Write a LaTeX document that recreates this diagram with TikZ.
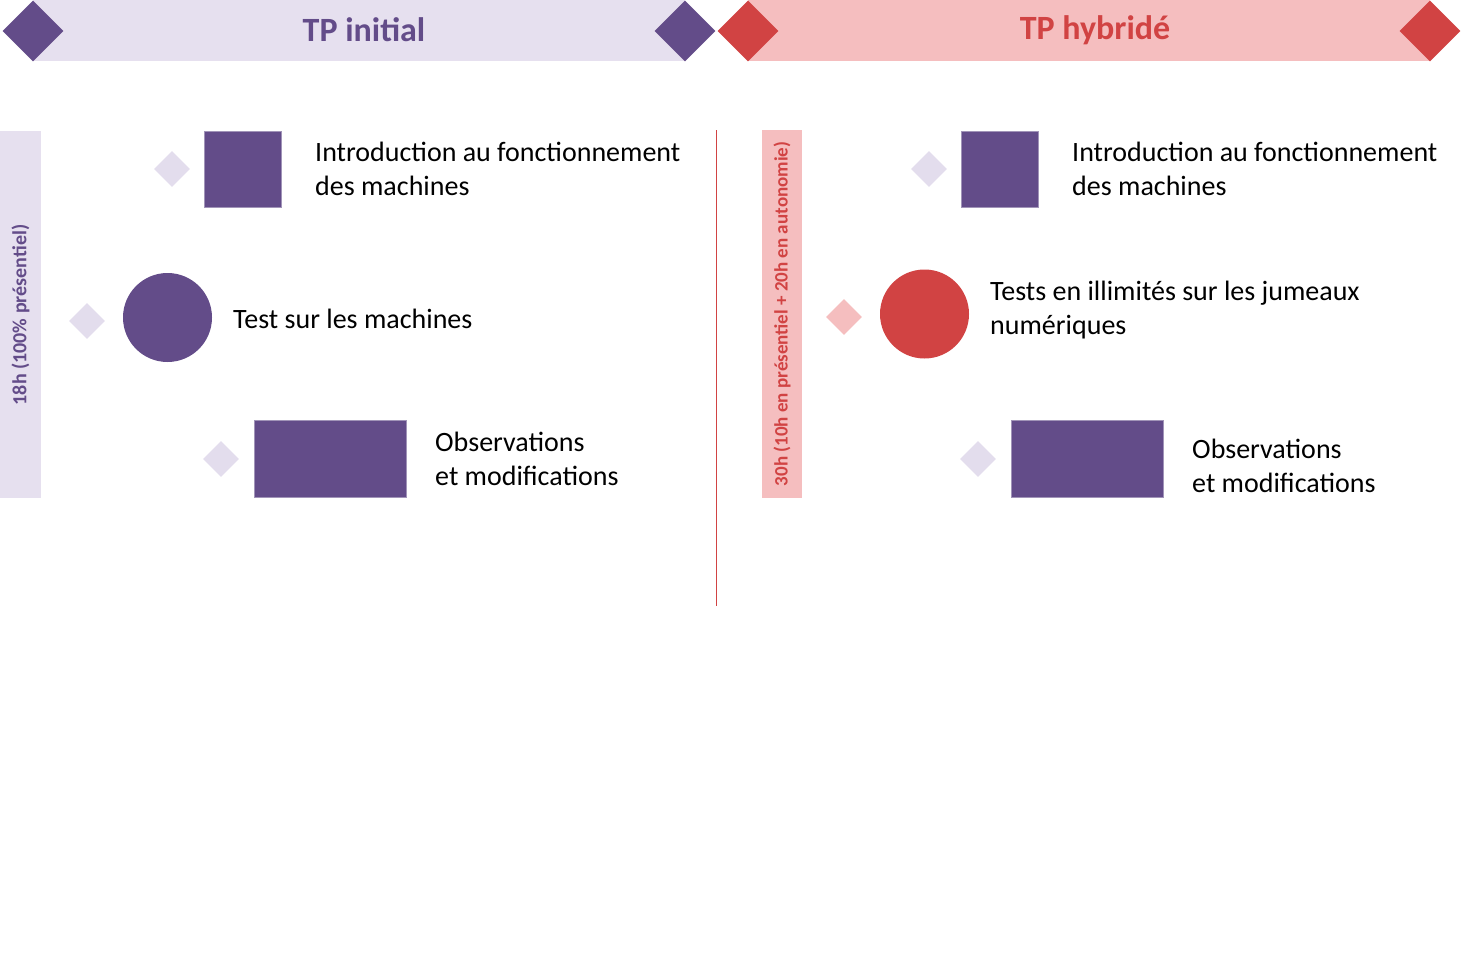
\documentclass[tikz,border=0pt]{standalone}
\usepackage{fontspec}
\setmainfont{Carlito}
\usetikzlibrary{shapes.geometric}
\definecolor{purp}{HTML}{634C89}
\definecolor{lpurp}{HTML}{E6E0EF}
\definecolor{dpurp}{HTML}{E3DDED}
\definecolor{rred}{HTML}{D14343}
\definecolor{pink}{HTML}{F5BEBF}
\tikzset{
  bigdia/.style={diamond, inner sep=0pt, minimum width=61pt, minimum height=61pt},
  smalldia/.style={diamond, inner sep=0pt, minimum width=36pt, minimum height=36pt, fill=dpurp},
  txt/.style={anchor=west, align=left, font=\fontsize{28}{34}\selectfont, inner sep=0pt},
  title/.style={font=\fontsize{34}{38}\selectfont\bfseries},
  vtxt/.style={rotate=90, font=\fontsize{19}{22}\selectfont\bfseries},
  blk/.style={fill=purp, draw=purp!60!white, line width=0.8pt}
}
\begin{document}
\begin{tikzpicture}[x=1pt,y=-1pt]
\useasboundingbox (0,0) rectangle (1461,974);
% headers
\fill[lpurp] (33,0) rectangle (685,61);
\fill[pink] (748,0) rectangle (1430,61);
\node[bigdia, fill=purp] (dl1) at (33,31) {};
\node[bigdia, fill=purp] (dl2) at (685,31) {};
\node[bigdia, fill=rred] (dr1) at (748,31) {};
\node[bigdia, fill=rred] (dr2) at (1430,31) {};
\node[title, text=purp] (tl) at (364,30) {TP initial};
\node[title, text=rred] (tr) at (1095,30) {TP hybridé};
% divider
\draw[rred, line width=0.9pt] (716,130) -- (716,606);
% vertical bars
\fill[lpurp] (0,131) rectangle (41,498);
\node[vtxt, text=purp, font=\fontsize{20}{22}\selectfont\bfseries] (vl) at (20.5,315) {18h (100\% présentiel)};
\fill[pink] (762,130) rectangle (802,498);
\node[vtxt, text=rred] (vr) at (782,314) {30h (10h en présentiel + 20h en autonomie)};
% left column
\node[smalldia] (ld1) at (172,169) {};
\node[blk, minimum width=77pt, minimum height=76pt, inner sep=0pt] (ls1) at (242.5,169) {};
\node[txt] (lt1) at (315,169) {Introduction au fonctionnement\\des machines};
\node[smalldia] (ld2) at (87,321) {};
\node[circle, fill=purp, minimum size=89pt, inner sep=0pt] (lc2) at (167.5,317.5) {};
\node[txt] (lt2) at (233,319) {Test sur les machines};
\node[smalldia] (ld3) at (221,459) {};
\node[blk, minimum width=152pt, minimum height=77pt, inner sep=0pt] (lr3) at (330,458.5) {};
\node[txt] (lt3) at (435,459) {Observations\\et modifications};
% right column
\node[smalldia] (rd1) at (929,169) {};
\node[blk, minimum width=77pt, minimum height=76pt, inner sep=0pt] (rs1) at (999.5,169) {};
\node[txt] (rt1) at (1072,169) {Introduction au fonctionnement\\des machines};
\node[smalldia, fill=pink] (rd2) at (844,317) {};
\node[circle, fill=rred, minimum size=89pt, inner sep=0pt] (rc2) at (924.5,314) {};
\node[txt] (rt2) at (990,310) {Tests en illimités sur les jumeaux\\numériques};
\node[smalldia] (rd3) at (978,459) {};
\node[blk, minimum width=152pt, minimum height=77pt, inner sep=0pt] (rr3) at (1087,458.5) {};
\node[txt] (rt3) at (1192,466) {Observations\\et modifications};
\end{tikzpicture}
\end{document}
